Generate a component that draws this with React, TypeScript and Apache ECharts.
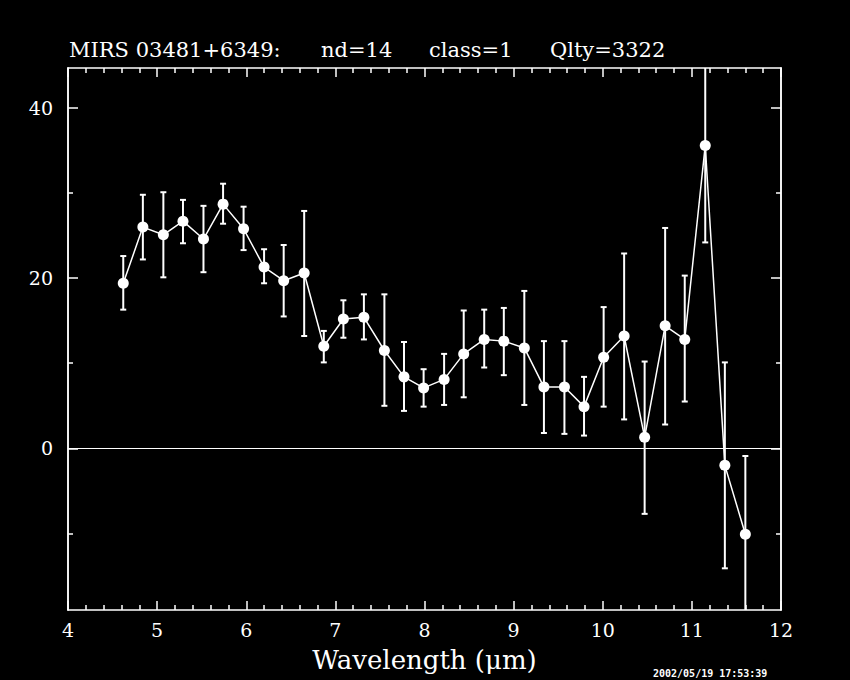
import React, { useEffect, useRef } from "react";
import * as echarts from "echarts";

const wavelength = [4.62, 4.84, 5.07, 5.29, 5.52, 5.74, 5.97, 6.2, 6.42, 6.65, 6.87, 7.09, 7.32, 7.55, 7.77, 7.99, 8.22, 8.44, 8.67, 8.89, 9.12, 9.34, 9.57, 9.79, 10.01, 10.24, 10.47, 10.7, 10.92, 11.15, 11.37, 11.6];
const flux = [19.4, 26.0, 25.1, 26.7, 24.6, 28.7, 25.8, 21.3, 19.7, 20.6, 12.0, 15.2, 15.4, 11.5, 8.4, 7.1, 8.1, 11.1, 12.8, 12.6, 11.8, 7.2, 7.2, 4.9, 10.7, 13.2, 1.3, 14.4, 12.8, 35.6, -2.0, -10.1];
const errUpper = [22.6, 29.8, 30.1, 29.2, 28.5, 31.1, 28.4, 23.4, 23.9, 27.9, 13.8, 17.4, 18.1, 18.1, 12.5, 9.3, 11.1, 16.2, 16.3, 16.5, 18.5, 12.6, 12.6, 8.4, 16.6, 22.9, 10.2, 25.9, 20.3, 47.0, 10.1, -0.9];
const errLower = [16.3, 22.2, 20.1, 24.1, 20.7, 26.4, 23.3, 19.4, 15.5, 13.2, 10.1, 13.0, 12.8, 5.0, 4.4, 4.9, 5.1, 6.0, 9.5, 8.6, 5.1, 1.8, 1.7, 1.5, 4.9, 3.4, -7.7, 2.8, 5.5, 24.2, -14.1, -19.3];

const yMajorTicks = [0, 20, 40];
const yMinorTicks = [-10, 10, 30];
const titleParts = ["MIRS 03481+6349:", "nd=14", "class=1", "Qlty=3322"];
const xAxisTitle = "Wavelength (μm)";
const timestamp = "2002/05/19 17:53:39";

const FONT = "DejaVu Serif";
const Y_MIN = -19;
const Y_MAX = 44.7;

export default function App() {
  const ref = useRef<HTMLDivElement>(null);
  useEffect(() => {
    if (!ref.current) return;
    const chart = echarts.init(ref.current, null, { renderer: "svg" });
    const white = "#ffffff";
    const xAxisBase = {
      type: "value",
      min: 4,
      max: 12,
      interval: 1,
      axisLine: { show: true, onZero: false, lineStyle: { color: white, width: 1.5 } },
      axisTick: { show: true, inside: true, length: 9, lineStyle: { color: white, width: 1.5 } },
      minorTick: { show: true, splitNumber: 5, length: 5, lineStyle: { color: white, width: 1.5 } },
      splitLine: { show: false },
    };
    const yBase = (position: string, ticks: number[], len: number, labels: boolean) => ({
      type: "value",
      position,
      min: Y_MIN,
      max: Y_MAX,
      axisLine: { show: true, onZero: false, lineStyle: { color: white, width: 1.5 } },
      axisTick: { show: true, inside: true, length: len, customValues: ticks, lineStyle: { color: white, width: 1.5 } },
      axisLabel: labels
        ? { show: true, customValues: ticks, color: white, fontFamily: FONT, fontSize: 19, margin: 15 }
        : { show: false },
      splitLine: { show: false },
    });
    const xPositions = [69, 321, 429, 550];
    chart.setOption({
      animation: false,
      backgroundColor: "#000000",
      grid: { left: 68, right: 69, top: 68, bottom: 70 },
      xAxis: [
        {
          ...xAxisBase,
          position: "bottom",
          axisLabel: { show: true, color: white, fontFamily: FONT, fontSize: 19, margin: 10 },
          name: xAxisTitle,
          nameLocation: "middle",
          nameGap: 37,
          nameTextStyle: { color: white, fontFamily: FONT, fontSize: 26 },
        },
        { ...xAxisBase, position: "top", axisLabel: { show: false } },
      ],
      yAxis: [
        yBase("left", yMajorTicks, 10, true),
        yBase("left", yMinorTicks, 5, false),
        yBase("right", yMajorTicks, 10, false),
        yBase("right", yMinorTicks, 5, false),
      ],
      graphic: [
        ...titleParts.map((t, i) => ({
          type: "text",
          left: xPositions[i],
          top: 39,
          style: { text: t, fill: white, font: `21px "${FONT}"` },
        })),
        {
          type: "text",
          left: 653,
          top: 668,
          style: { text: timestamp, fill: white, font: `bold 10px "DejaVu Sans Mono"` },
        },
      ],
      series: [
        {
          type: "custom",
          xAxisIndex: 0,
          yAxisIndex: 0,
          data: wavelength.map((w, i) => [w, errUpper[i], errLower[i]]),
          encode: { x: 0, y: [1, 2] },
          z: 2,
          renderItem: (params: any, api: any) => {
            const x = api.value(0);
            const hi = api.value(1);
            const lo = api.value(2);
            const cs = params.coordSys;
            const top = cs.y;
            const bottom = cs.y + cs.height;
            const pHi = api.coord([x, hi]);
            const pLo = api.coord([x, lo]);
            const px = pHi[0];
            const capTop = pHi[1] >= top;
            const capBot = pLo[1] <= bottom;
            const yT = Math.max(pHi[1], top);
            const yB = Math.min(pLo[1], bottom);
            const style = { stroke: white, lineWidth: 2 };
            const children: any[] = [
              { type: "line", shape: { x1: px, y1: yT, x2: px, y2: yB }, style },
            ];
            if (capTop) children.push({ type: "line", shape: { x1: px - 3, y1: yT, x2: px + 3, y2: yT }, style });
            if (capBot) children.push({ type: "line", shape: { x1: px - 3, y1: yB, x2: px + 3, y2: yB }, style });
            return { type: "group", children };
          },
        },
        {
          type: "line",
          xAxisIndex: 0,
          yAxisIndex: 0,
          data: wavelength.map((w, i) => [w, flux[i]]),
          symbol: "circle",
          symbolSize: 11,
          itemStyle: { color: white },
          lineStyle: { color: white, width: 1.5 },
          z: 3,
          markLine: {
            silent: true,
            symbol: ["none", "none"],
            label: { show: false },
            lineStyle: { color: white, width: 1, type: "solid" },
            data: [{ yAxis: 0 }],
          },
        },
      ],
    });
    return () => chart.dispose();
  }, []);
  return (
    <div
      ref={ref}
      style={{ position: "fixed", left: 0, top: 0, width: 850, height: 680, background: "#000" }}
    />
  );
}
